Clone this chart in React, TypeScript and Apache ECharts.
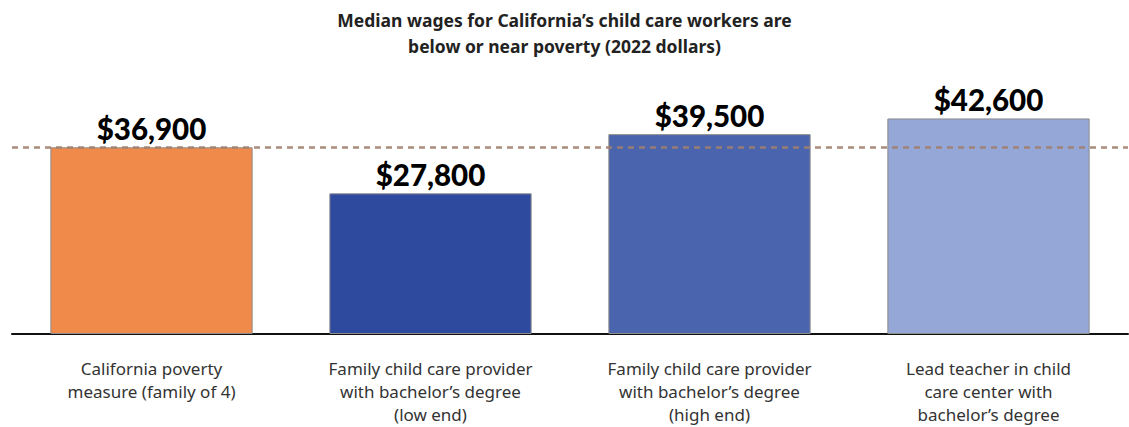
import React, { useEffect, useRef } from "react";
import * as echarts from "echarts";

const titleText = "Median wages for California\u2019s child care workers are\nbelow or near poverty (2022 dollars)";
const categories = [
  "California poverty\nmeasure (family of 4)",
  "Family child care provider\nwith bachelor\u2019s degree\n(low end)",
  "Family child care provider\nwith bachelor\u2019s degree\n(high end)",
  "Lead teacher in child\ncare center with\nbachelor\u2019s degree",
];
const values = [36900, 27800, 39500, 42600];
const barColors = ["#EF8A4B", "#2E4A9E", "#4B64AE", "#95A7D6"];
const povertyLine = 36900;

export default function App() {
  const ref = useRef<HTMLDivElement>(null);
  useEffect(() => {
    if (!ref.current) return;
    const chart = echarts.init(ref.current, null, { renderer: "svg" });
    chart.setOption({
      animation: false,
      backgroundColor: "#ffffff",
      title: {
        text: titleText,
        left: "center",
        top: 2,
        textStyle: {
          fontFamily: "Noto Sans",
          fontWeight: "bold",
          fontSize: 17.5,
          lineHeight: 26,
          color: "#222222",
        },
      },
      grid: { left: 12, right: 1, top: 81, bottom: 93 },
      xAxis: {
        type: "category",
        data: categories,
        axisLine: { show: true, lineStyle: { color: "#111111", width: 2 } },
        axisTick: { show: false },
        axisLabel: {
          interval: 0,
          margin: 23,
          fontFamily: "Noto Sans",
          fontSize: 17,
          lineHeight: 23,
          color: "#333333",
          verticalAlign: "top",
        },
      },
      yAxis: {
        type: "value",
        min: 0,
        max: 50000,
        show: false,
        splitLine: { show: false },
      },
      series: [
        {
          type: "bar",
          barWidth: "72.5%",
          data: values.map((v, i) => ({
            value: v,
            itemStyle: { color: barColors[i], borderColor: "#8c8c8c", borderWidth: 1 },
          })),
          label: {
            show: true,
            position: "top",
            distance: 4,
            formatter: (p: any) => "$" + p.value.toLocaleString("en-US"),
            fontFamily: "Lato",
            fontWeight: 900,
            fontSize: 29.5,
            color: "#000000",
          },
          markLine: {
            silent: true,
            symbol: "none",
            z: 10,
            label: { show: false },
            lineStyle: { type: [6, 5], color: "#A0806E", width: 2.5, opacity: 0.9 },
            data: [{ yAxis: povertyLine }],
          },
        },
      ],
    });
    return () => chart.dispose();
  }, []);
  return (
    <div
      ref={ref}
      style={{ position: "absolute", left: 0, top: 0, width: 1129, height: 427 }}
    />
  );
}
